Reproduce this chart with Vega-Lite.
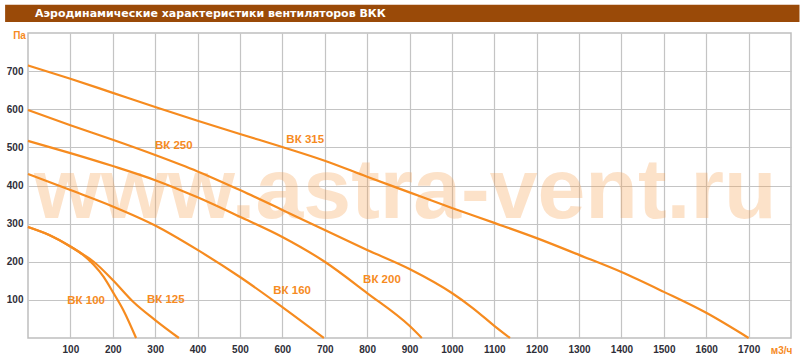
{
  "$schema": "https://vega.github.io/schema/vega-lite/v6.json",
  "width": 763,
  "height": 305,
  "autosize": {"type": "none"},
  "padding": {"left": 28, "top": 33, "right": 9, "bottom": 22},
  "background": "white",
  "config": {
    "view": {"stroke": "#BEBEBE", "strokeWidth": 1.5},
    "axis": {
      "labelFont": "Liberation Sans",
      "labelFontWeight": "bold",
      "labelFontSize": 10,
      "labelColor": "#2E2E38",
      "ticks": false,
      "domain": false,
      "gridColor": "#C4C4C4",
      "gridWidth": 1.2,
      "gridOpacity": 1,
      "titleFont": "Liberation Sans",
      "titleFontWeight": "bold",
      "titleFontSize": 10,
      "titleColor": "#F68B1F"
    }
  },
  "encoding": {
    "x": {
      "field": "x",
      "type": "quantitative",
      "scale": {"domain": [0, 1800], "nice": false, "zero": false},
      "axis": {
        "values": [100, 200, 300, 400, 500, 600, 700, 800, 900, 1000, 1100, 1200, 1300, 1400, 1500, 1600, 1700],
        "format": "d",
        "labelPadding": 6,
        "title": "м3/ч",
        "titleX": 753,
        "titleY": 12,
        "titleAlign": "center",
        "titleBaseline": "middle",
        "labelFlush": false,
        "labelOverlap": false
      }
    },
    "y": {
      "field": "y",
      "type": "quantitative",
      "scale": {"domain": [0, 800], "nice": false, "zero": false},
      "axis": {
        "values": [100, 200, 300, 400, 500, 600, 700],
        "format": "d",
        "labelPadding": 5,
        "title": "Па",
        "titleAngle": 0,
        "titleX": -9,
        "titleY": 2,
        "titleAlign": "center",
        "titleBaseline": "middle",
        "labelOverlap": false
      }
    }
  },
  "layer": [
    {
      "data": {"values": [{"x": -54, "x2": 1820, "y": 829, "y2": 874}]},
      "mark": {"type": "rect", "color": "#9A4A08", "clip": false},
      "encoding": {
        "x2": {"field": "x2"},
        "y2": {"field": "y2"}
      }
    },
    {
      "data": {"values": [{"x": 16.5, "y": 851, "label": "Аэродинамические характеристики вентиляторов ВКК"}]},
      "mark": {"type": "text", "align": "left", "baseline": "middle", "font": "DejaVu Sans", "fontWeight": "bold", "fontSize": 11, "color": "white", "clip": false},
      "encoding": {"text": {"field": "label"}}
    },
    {
      "data": {"values": [{"x": 890, "y": 315, "label": "www.astra-vent.ru"}]},
      "mark": {"type": "text", "align": "center", "baseline": "alphabetic", "font": "Liberation Sans", "fontWeight": "bold", "fontSize": 86, "color": "#F7A050", "opacity": 0.3},
      "encoding": {"text": {"field": "label"}}
    },
    {
      "data": {"values": [
        {"fan": "ВК 315", "x": 0, "y": 715}, {"fan": "ВК 315", "x": 100, "y": 680}, {"fan": "ВК 315", "x": 200, "y": 643}, {"fan": "ВК 315", "x": 300, "y": 606}, {"fan": "ВК 315", "x": 400, "y": 570}, {"fan": "ВК 315", "x": 500, "y": 535}, {"fan": "ВК 315", "x": 600, "y": 501}, {"fan": "ВК 315", "x": 700, "y": 465}, {"fan": "ВК 315", "x": 800, "y": 423}, {"fan": "ВК 315", "x": 900, "y": 382}, {"fan": "ВК 315", "x": 1000, "y": 341}, {"fan": "ВК 315", "x": 1100, "y": 302}, {"fan": "ВК 315", "x": 1200, "y": 262}, {"fan": "ВК 315", "x": 1300, "y": 218}, {"fan": "ВК 315", "x": 1400, "y": 173}, {"fan": "ВК 315", "x": 1500, "y": 121}, {"fan": "ВК 315", "x": 1600, "y": 66}, {"fan": "ВК 315", "x": 1700, "y": 0},
        {"fan": "ВК 250", "x": 0, "y": 598}, {"fan": "ВК 250", "x": 100, "y": 558}, {"fan": "ВК 250", "x": 200, "y": 520}, {"fan": "ВК 250", "x": 300, "y": 480}, {"fan": "ВК 250", "x": 400, "y": 437}, {"fan": "ВК 250", "x": 500, "y": 388}, {"fan": "ВК 250", "x": 600, "y": 336}, {"fan": "ВК 250", "x": 700, "y": 283}, {"fan": "ВК 250", "x": 800, "y": 231}, {"fan": "ВК 250", "x": 900, "y": 181}, {"fan": "ВК 250", "x": 1000, "y": 118}, {"fan": "ВК 250", "x": 1050, "y": 78}, {"fan": "ВК 250", "x": 1100, "y": 32}, {"fan": "ВК 250", "x": 1137, "y": 0},
        {"fan": "ВК 200", "x": 0, "y": 517}, {"fan": "ВК 200", "x": 100, "y": 485}, {"fan": "ВК 200", "x": 200, "y": 451}, {"fan": "ВК 200", "x": 300, "y": 414}, {"fan": "ВК 200", "x": 400, "y": 369}, {"fan": "ВК 200", "x": 500, "y": 318}, {"fan": "ВК 200", "x": 600, "y": 265}, {"fan": "ВК 200", "x": 700, "y": 200}, {"fan": "ВК 200", "x": 800, "y": 118}, {"fan": "ВК 200", "x": 900, "y": 32}, {"fan": "ВК 200", "x": 929, "y": 0},
        {"fan": "ВК 160", "x": 0, "y": 430}, {"fan": "ВК 160", "x": 100, "y": 388}, {"fan": "ВК 160", "x": 200, "y": 345}, {"fan": "ВК 160", "x": 300, "y": 295}, {"fan": "ВК 160", "x": 400, "y": 231}, {"fan": "ВК 160", "x": 500, "y": 160}, {"fan": "ВК 160", "x": 600, "y": 81}, {"fan": "ВК 160", "x": 698, "y": 0},
        {"fan": "ВК 125", "x": 0, "y": 291}, {"fan": "ВК 125", "x": 50, "y": 270}, {"fan": "ВК 125", "x": 100, "y": 240}, {"fan": "ВК 125", "x": 130, "y": 219}, {"fan": "ВК 125", "x": 155, "y": 200}, {"fan": "ВК 125", "x": 200, "y": 152}, {"fan": "ВК 125", "x": 248, "y": 95}, {"fan": "ВК 125", "x": 300, "y": 47}, {"fan": "ВК 125", "x": 356, "y": 0},
        {"fan": "ВК 100", "x": 0, "y": 291}, {"fan": "ВК 100", "x": 50, "y": 270}, {"fan": "ВК 100", "x": 100, "y": 240}, {"fan": "ВК 100", "x": 130, "y": 218}, {"fan": "ВК 100", "x": 155, "y": 192}, {"fan": "ВК 100", "x": 178, "y": 161}, {"fan": "ВК 100", "x": 200, "y": 121}, {"fan": "ВК 100", "x": 225, "y": 73}, {"fan": "ВК 100", "x": 255, "y": 0}
      ]},
      "mark": {"type": "line", "color": "#F68B1F", "strokeWidth": 2.2, "interpolate": "monotone"},
      "encoding": {"detail": {"field": "fan"}}
    },
    {
      "data": {"values": [
        {"x": 137, "y": 97, "label": "ВК 100"},
        {"x": 325, "y": 100, "label": "ВК 125"},
        {"x": 623, "y": 124, "label": "ВК 160"},
        {"x": 835, "y": 152, "label": "ВК 200"},
        {"x": 344, "y": 503, "label": "ВК 250"},
        {"x": 654, "y": 519, "label": "ВК 315"}
      ]},
      "mark": {"type": "text", "align": "center", "baseline": "middle", "font": "Liberation Sans", "fontWeight": "bold", "fontSize": 11.5, "color": "#F68B1F"},
      "encoding": {"text": {"field": "label"}}
    }
  ]
}
